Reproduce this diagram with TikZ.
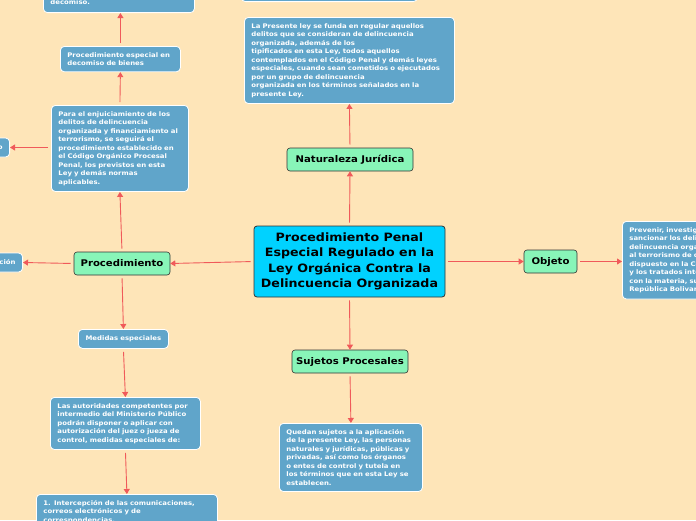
\documentclass[tikz,border=0pt]{standalone}
\usepackage{fontspec}
\setmainfont{DejaVu Sans}[FakeStretch=1.1]
\usetikzlibrary{arrows.meta, positioning}

\definecolor{paper}{HTML}{FEE5B8}
\definecolor{hubcyan}{HTML}{00D2FF}
\definecolor{topicgreen}{HTML}{88F5B8}
\definecolor{noteblue}{HTML}{60A5CA}
\definecolor{linkred}{HTML}{F05A5A}

\tikzset{
  hub/.style={draw=black!80, fill=hubcyan, rounded corners=3pt, line width=0.8pt,
    font=\bfseries\fontsize{11.5}{15.5}\selectfont, align=center,
    minimum width=191pt, minimum height=71pt, inner sep=2pt},
  topic/.style={draw=black!80, fill=topicgreen, rounded corners=3pt, line width=0.6pt,
    font=\bfseries\fontsize{9.2}{11}\selectfont, minimum height=23pt, inner sep=2pt},
  note/.style={draw=white, fill=noteblue, rounded corners=4pt, line width=0.8pt,
    text=white, font=\bfseries\fontsize{6.3}{8.5}\selectfont, align=left,
    inner xsep=7pt, inner ysep=6pt},
  link/.style={draw=linkred, line width=0.9pt, shorten <=3pt,
    -{Triangle[width=6pt,length=5pt]}}
}

\begin{document}
\begin{tikzpicture}[x=1pt, y=-1pt]
\useasboundingbox (0,0) rectangle (696,520);
\fill[paper] (0,0) rectangle (696,520);
\clip (0,0) rectangle (696,520);

% centre and main topics
\node[hub] (hub) at (349.5,261.5) {Procedimiento Penal\\Especial Regulado en la\\Ley Orgánica Contra la\\Delincuencia Organizada};
\node[topic, minimum width=126pt] (natur) at (350,159.5) {Naturaleza Jurídica};
\node[topic, minimum width=53pt] (objeto) at (550.5,261.5) {Objeto};
\node[topic, minimum width=96pt] (proc) at (122,263.5) {Procedimiento};
\node[topic, minimum width=116pt] (sujetos) at (350,361.5) {Sujetos Procesales};

% notes
\node[note, anchor=south west, minimum width=176pt, minimum height=24pt] (hidden) at (241,2) {};
\node[note, anchor=north west, text width=196pt] (naturtxt) at (244,17) {La Presente ley se funda en regular aquellos\\delitos que se consideran de delincuencia\\organizada, además de los\\tipificados en esta Ley, todos aquellos\\contemplados en el Código Penal y demás leyes\\especiales, cuando sean cometidos o ejecutados\\por un grupo de delincuencia\\organizada en los términos señalados en la\\presente Ley.};
\node[note, anchor=north west, text width=200pt] (objtxt) at (622,221) {Prevenir, investigar, perseguir, tipificar y\\sancionar los delitos relacionados con la\\delincuencia organizada y el financiamiento\\al terrorismo de conformidad con lo\\dispuesto en la Constitución de la República\\y los tratados internacionales relacionados\\con la materia, suscritos y ratificados por la\\República Bolivariana de Venezuela.};
\node[note, anchor=north west, text width=129pt] (sujtxt) at (279,423) {Quedan sujetos a la aplicación\\de la presente Ley, las personas\\naturales y jurídicas, públicas y\\privadas, así como los órganos\\o entes de control y tutela en\\los términos que en esta Ley se\\establecen.};
\node[note, anchor=north west, text width=123pt] (enjtxt) at (51,105) {Para el enjuiciamiento de los\\delitos de delincuencia\\organizada y financiamiento al\\terrorismo, se seguirá el\\procedimiento establecido en\\el Código Orgánico Procesal\\Penal, los previstos en esta\\Ley y demás normas\\aplicables.};
\node[note, anchor=north west, text width=106pt] (decbienes) at (60,46) {Procedimiento especial en\\decomiso de bienes};
\node[note, anchor=south west, text width=137pt, minimum height=34pt, text depth=0pt] (decomiso) at (43,13) {\\decomiso.};
\node[note, anchor=east, minimum width=50pt, minimum height=19pt, align=right, text width=36pt, inner xsep=6pt] (leftup) at (10,147.5) {o};
\node[note, anchor=east, minimum width=60pt, minimum height=19pt, align=right, text width=46pt, inner xsep=6pt] (leftmid) at (23,262.5) {ción};
\node[note, anchor=north west, text width=76pt, align=center, minimum height=19pt] (medidas) at (78,329) {Medidas especiales};
\node[note, anchor=north west, text width=136pt] (autor) at (50,397) {Las autoridades competentes por\\intermedio del Ministerio Público\\podrán disponer o aplicar con\\autorización del juez o jueza de\\control, medidas especiales de:};
\node[note, anchor=north west, text width=167pt] (intercep) at (36,494) {1. Intercepción de las comunicaciones,\\correos electrónicos y de\\correspondencias.};

% connectors
\draw[link] (hub.north) -- (natur.south);
\draw[link] (natur.north) -- (naturtxt.south);
\draw[link] (hub.east) -- (objeto.west);
\draw[link] (objeto.east) -- (objtxt.west |- objeto.east);
\draw[link] (hub.south) -- (sujetos.north);
\draw[link] (sujetos.south) -- (sujtxt.north);
\draw[link] (hub.west) -- (proc.east);
\draw[link] (proc.west) -- (leftmid.east);
\draw[link] (proc.north) -- (enjtxt.south);
\draw[link] (enjtxt.west |- leftup.east) -- (leftup.east);
\draw[link] (enjtxt.north) -- (decbienes.south);
\draw[link] (decbienes.north) -- (decomiso.south -| decbienes.north);
\draw[link] (proc.south) -- (medidas.north);
\draw[link] (medidas.south) -- (autor.north);
\draw[link] (autor.south) -- (intercep.north);
\end{tikzpicture}
\end{document}
